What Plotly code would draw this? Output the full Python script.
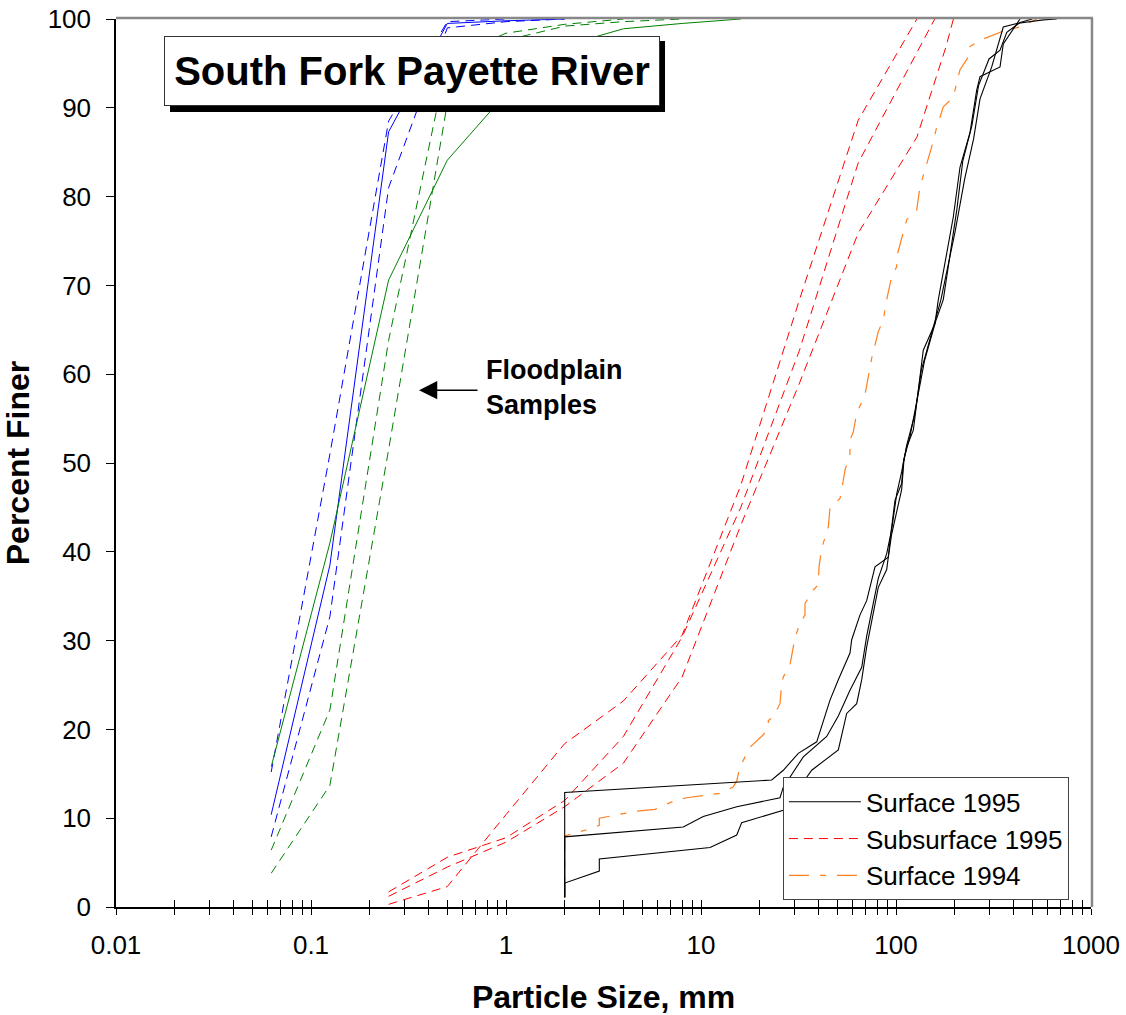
import plotly.graph_objects as go

# ---------------- data ----------------
sieve = [0.0625, 0.125, 0.25, 0.5, 1, 2, 4, 8, 16]

blue_solid = [10.4, 38.5, 87.3, 99.5, 99.8, 100]
blue_dash1 = [15.2, 51.0, 88.5, 99.7, 100]
blue_dash2 = [7.9, 32.7, 81.0, 99.0, 99.7, 100]

green_solid = [15.8, 41.0, 70.6, 84.1, 91.6, 97.0, 98.9, 99.5, 100]
green_dash1 = [6.4, 22.2, 63.8, 95.5, 98.4, 99.4, 100]
green_dash2 = [3.8, 13.7, 51.5, 90.5, 97.6, 99.2, 99.7, 100]

sub1_size = [0.25, 0.5, 1, 2, 4, 8, 16, 32, 64, 128]
sub1_pct = [0.3, 2.3, 10.4, 18.4, 23.2, 30.6, 47.5, 68.4, 88.6, 100]
sub2_size = [0.25, 0.5, 1, 2, 4, 8, 16, 32, 64, 128, 158]
sub2_pct = [1.7, 5.6, 7.8, 12.0, 19.2, 30.4, 45.0, 62.7, 83.8, 96.2, 100]
sub3_size = [0.25, 0.5, 1, 2, 4, 8, 16, 32, 64, 128, 180, 197]
sub3_pct = [1.2, 4.5, 7.3, 11.3, 16.2, 25.9, 43.0, 59.0, 75.9, 86.7, 96.8, 100]

s94_size = [2, 2, 2.59, 3.01, 3.01, 3.70, 4.68, 5.81, 7.36, 8.45, 12.5, 14.6, 15.25,
            15.85, 17.84, 20.87, 22.14, 22.14, 23.49, 25.42, 25.93, 26.43, 28.61,
            29.74, 30.35, 32.19, 34.15, 34.15, 37.66, 39.95, 40.29, 41.59, 44.96,
            45.87, 51.62, 52.66, 54.76, 58.08, 58.08, 60.39, 62.87, 69.34, 72.10,
            75.06, 76.49, 81.13, 86.07, 89.60, 95.04, 100.8, 100.8, 109.0, 113.5,
            127.7, 130.1, 132.7, 152.4, 155.3, 161.7, 174.8, 196.7, 200.7, 212.9,
            239.6, 239.6, 269.7, 328.5, 369.6, 432.4, 526.6]
s94_pct = [1.0, 8.0, 8.7, 9.2, 10.0, 10.4, 10.8, 11.0, 12.0, 12.3, 12.8, 13.5, 14.2,
           15.8, 18.0, 19.4, 20.2, 21.0, 21.4, 22.9, 25.2, 25.9, 27.3,
           29.3, 30.4, 31.9, 32.9, 34.2, 35.7, 36.3, 38.3, 40.4, 42.8,
           44.9, 46.0, 47.0, 49.2, 51.1, 52.6, 53.5, 55.6, 57.7, 59.9,
           61.8, 62.5, 64.8, 66.1, 68.4, 71.0, 72.1, 73.2, 75.9, 77.4,
           78.5, 79.6, 81.1, 85.6, 86.4, 87.8, 90.1, 91.2, 92.0, 94.3,
           96.0, 96.9, 97.6, 98.4, 98.8, 99.1, 100]

s95a_size = [2, 2, 23.05, 26.43, 31.55, 39.21, 45.87, 50.6, 58.08, 59.27, 65.38, 70.74,
             78.04, 91.31, 93.16, 98.83, 106.9, 109.0, 113.5, 122.7, 132.7, 138.0,
             158.5, 164.8, 196.7, 212.9, 239.6, 259.3, 269.7, 341.6, 355.0, 399.6, 432.4]
s95a_pct = [1.1, 12.9, 14.3, 15.4, 17.3, 18.6, 23.3, 25.6, 28.6, 30.1, 32.9, 34.5,
            38.3, 39.4, 41.3, 45.8, 47.7, 50.0, 51.8, 53.7, 59.7, 62.7,
            65.7, 68.4, 77.7, 83.3, 87.2, 92.0, 93.5, 94.6, 97.2, 98.8, 100]
s95b_size = [2, 2, 8.11, 10.27, 15.25, 25.42, 26.43, 33.47, 44.13, 50.6, 58.08, 66.71,
             70.74, 75.06, 81.13, 89.6, 95.04, 100.8, 106.9, 113.5, 125.0, 135.0,
             150.0, 170.0, 200.7, 225.0, 250.0, 269.7, 309.6, 355.0, 415.9, 569.4, 667.0]
s95b_pct = [1.1, 7.9, 9.0, 10.2, 11.3, 12.3, 13.5, 16.9, 19.2, 21.5, 24.4, 27.0,
            30.5, 33.5, 37.0, 39.8, 42.5, 46.5, 49.0, 52.0, 55.5, 60.5,
            64.0, 68.4, 76.0, 82.0, 86.5, 91.0, 94.6, 99.1, 99.5, 99.9, 100]
s95c_size = [2, 2, 3.01, 3.01, 11.13, 15.25, 16.17, 26.43, 36.96, 50.6, 55.87, 62.87,
             66.71, 70.74, 81.13, 89.6, 91.31, 95.04, 100.8, 106.9, 110.0, 118.0,
             128.0, 140.0, 160.0, 174.8, 205.0, 220.0, 245.0, 265.0, 300.0, 341.6,
             370.0, 432.4, 500.0]
s95c_pct = [1.1, 2.7, 4.05, 5.4, 6.7, 8.1, 9.5, 10.9, 15.4, 17.7, 21.8, 22.9,
            25.6, 29.3, 36.0, 38.0, 39.4, 42.0, 44.5, 47.0, 50.5, 53.0,
            57.0, 61.5, 66.0, 68.4, 78.5, 84.0, 88.0, 92.5, 95.5, 96.5,
            98.5, 99.6, 100]

x_tickvals = [0.01, 0.1, 1, 10, 100, 1000]
x_ticktext = ["0.01", "0.1", "1", "10", "100", "1000"]
x_minor = [m * d for d in [0.01, 0.1, 1, 10, 100] for m in range(2, 10)]
y_tickvals = list(range(0, 101, 10))

title_text = "South Fork Payette River"
note_text = "Floodplain<br>Samples"

# ---------------- figure ----------------
DASH = "9px,6px"
DASHDOT = "20px,11px,6px,11px"
FONT = "Liberation Sans, Arial, sans-serif"

fig = go.Figure()

def add(x, y, color, dash="solid", width=1.0, name=None, show=False, group=None):
    fig.add_trace(go.Scatter(
        x=x, y=y, mode="lines", name=name, showlegend=show, legendgroup=group,
        line=dict(color=color, dash=dash, width=width), hoverinfo="skip"))

add(sieve[:len(blue_dash1)], blue_dash1, "#0000FF", DASH)
add(sieve[:len(blue_dash2)], blue_dash2, "#0000FF", DASH)
add(sieve[:len(blue_solid)], blue_solid, "#0000FF")
add(sieve[:len(green_dash1)], green_dash1, "#008000", DASH)
add(sieve[:len(green_dash2)], green_dash2, "#008000", DASH)
add(sieve[:len(green_solid)], green_solid, "#008000")

add(sub1_size, sub1_pct, "#FF0000", DASH, 1.0, "Subsurface 1995", False, "sub")
add(sub2_size, sub2_pct, "#FF0000", DASH, 1.0, "Subsurface 1995", False, "sub")
add(sub3_size, sub3_pct, "#FF0000", DASH, 1.0, "Subsurface 1995", False, "sub")

add(s94_size, s94_pct, "#FF7F1E", DASHDOT, 1.2, "Surface 1994", False, "s94")

add(s95a_size, s95a_pct, "#000000", "solid", 1.1, "Surface 1995", True, "s95")
add(s95b_size, s95b_pct, "#000000", "solid", 1.1, "Surface 1995", False, "s95")
add(s95c_size, s95c_pct, "#000000", "solid", 1.1, "Surface 1995", False, "s95")

# legend-only entries in the reference order
fig.add_trace(go.Scatter(x=[None], y=[None], mode="lines", name="Subsurface 1995",
                         legendgroup="sub", showlegend=True,
                         line=dict(color="#FF0000", dash=DASH, width=1.0)))
fig.add_trace(go.Scatter(x=[None], y=[None], mode="lines", name="Surface 1994",
                         legendgroup="s94", showlegend=True,
                         line=dict(color="#FF7F1E", dash=DASHDOT, width=1.2)))
# empty trace so the overlaid tick axis (inner half of crossing ticks) is drawn
fig.add_trace(go.Scatter(x=[None], y=[None], xaxis="x2", mode="lines",
                         showlegend=False, hoverinfo="skip"))

axis_font = dict(family=FONT, size=26, color="black")
title_font = dict(family=FONT, size=32, color="black", weight="bold")

fig.update_layout(
    width=1126, height=1015,
    margin=dict(l=116, r=35, t=19, b=108),
    plot_bgcolor="white", paper_bgcolor="white",
    font=dict(family=FONT, color="black"),
    xaxis=dict(
        type="log", range=[-2, 3], showgrid=False, zeroline=False,
        showline=True, linecolor="black", linewidth=1.5,
        tickmode="array", tickvals=x_tickvals, ticktext=x_ticktext,
        ticks="outside", ticklen=6, tickwidth=1, tickcolor="black",
        minor=dict(tickmode="array", tickvals=x_minor, ticks="outside",
                   ticklen=6, tickwidth=1, tickcolor="black", showgrid=False),
        tickfont=axis_font, ticklabelstandoff=8,
        title=dict(text="Particle Size, mm", font=title_font, standoff=30),
        automargin=False,
    ),
    xaxis2=dict(
        type="log", range=[-2, 3], overlaying="x", anchor="y",
        side="bottom", showgrid=False, zeroline=False, showline=False,
        showticklabels=False, tickmode="array", tickvals=x_tickvals,
        ticks="inside", ticklen=7, tickwidth=1, tickcolor="black",
        minor=dict(tickmode="array", tickvals=x_minor, ticks="inside",
                   ticklen=7, tickwidth=1, tickcolor="black", showgrid=False),
        automargin=False,
    ),
    yaxis=dict(
        range=[0, 100], showgrid=False, zeroline=False,
        showline=True, linecolor="black", linewidth=1.5,
        tickmode="array", tickvals=y_tickvals,
        ticks="outside", ticklen=8, tickwidth=1, tickcolor="black",
        tickfont=axis_font, ticklabelstandoff=10,
        title=dict(text="Percent Finer", font=title_font, standoff=24),
        automargin=False,
    ),
    legend=dict(
        x=0.684, y=0.146, xanchor="left", yanchor="top",
        bgcolor="white", bordercolor="#444444", borderwidth=1,
        font=dict(family=FONT, size=26, color="black"),
        traceorder="normal", itemwidth=72, tracegroupgap=0,
    ),
    shapes=[
        dict(type="line", xref="paper", yref="paper", x0=0, x1=1.002, y0=1.001, y1=1.001,
             line=dict(color="#888888", width=2.5)),
        dict(type="line", xref="paper", yref="paper", x0=1.001, x1=1.001, y0=0, y1=1.001,
             line=dict(color="#888888", width=2.5)),
        # drop shadow of the title box
        dict(type="rect", xref="paper", yref="paper", layer="above",
             x0=0.0554, x1=0.5631, y0=0.8953, y1=0.9752,
             line=dict(width=0), fillcolor="black"),
    ],
)

# Title box
fig.add_annotation(
    x=0.3036, y=0.9414, xref="paper", yref="paper",
    xanchor="center", yanchor="middle", showarrow=False,
    text=title_text, width=478, height=52, borderpad=8,
    font=dict(family=FONT, size=40, color="black", weight="bold"),
    bgcolor="white", bordercolor="#333333", borderwidth=1,
)

# Floodplain annotation with arrow
fig.add_annotation(
    x=-0.446, y=58.2, xref="x", yref="y", ax=60, ay=0, axref="pixel", ayref="pixel",
    text="", showarrow=True, arrowhead=2, arrowsize=2.6, arrowwidth=1.4,
    arrowcolor="black",
)
fig.add_annotation(
    x=0.3775, y=0.624, xref="paper", yref="paper", xanchor="left", yanchor="top",
    showarrow=False, align="left", text=note_text,
    font=dict(family=FONT, size=27, color="black", weight="bold"),
)

fig.write_html("out.html")
